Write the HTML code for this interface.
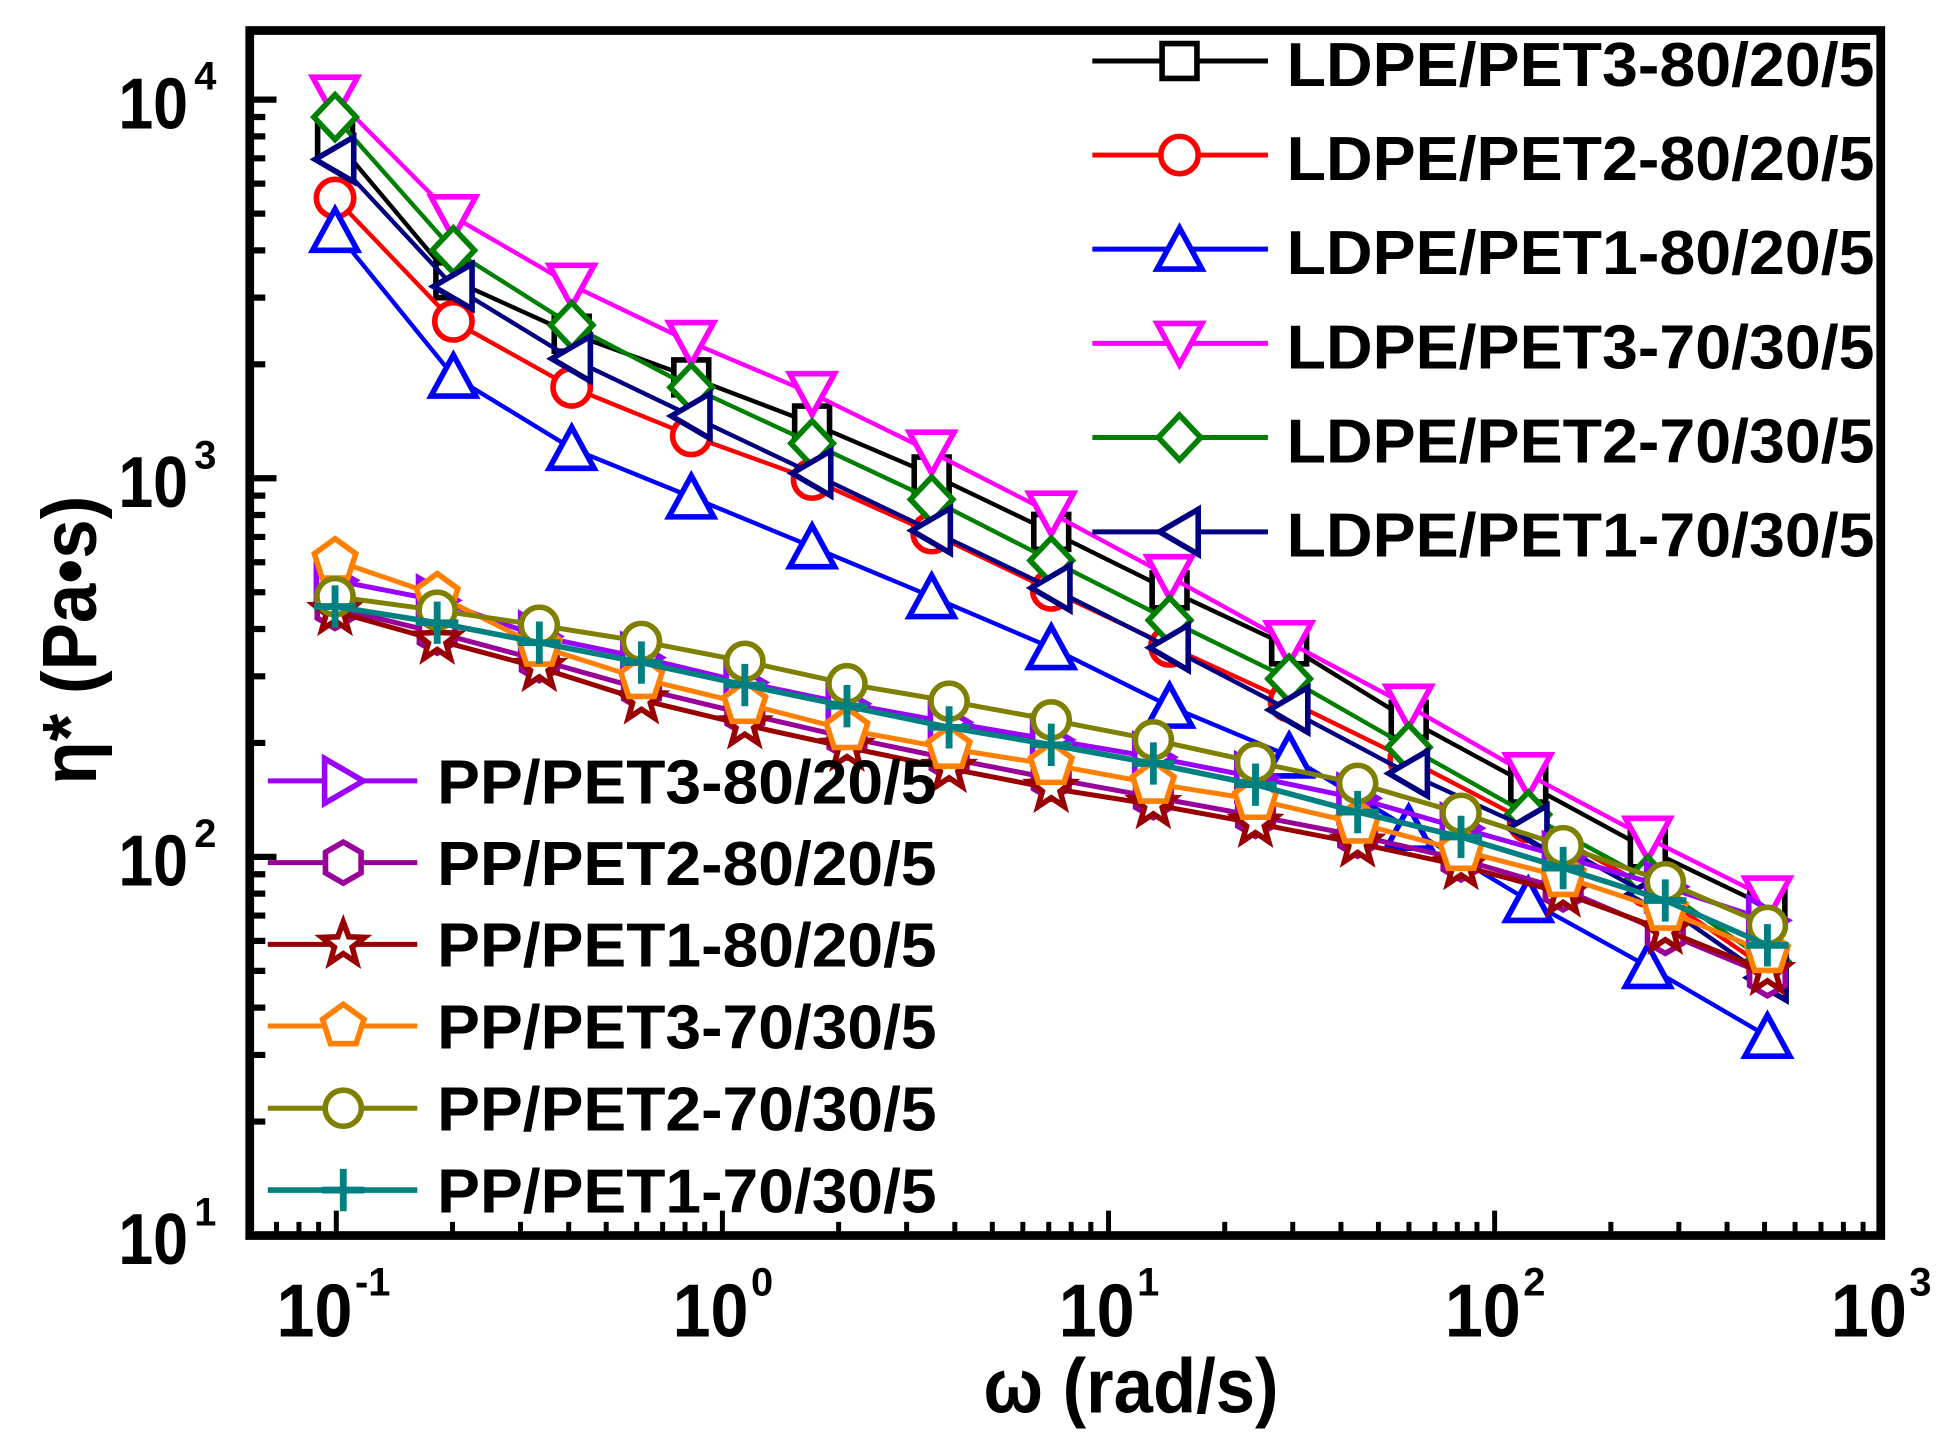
<!DOCTYPE html>
<html>
<head>
<meta charset="utf-8">
<style>
html,body{margin:0;padding:0;background:#fff;}
svg{display:block;}
text{font-family:"Liberation Sans",Arial,sans-serif;font-weight:bold;fill:#000;}
</style>
</head>
<body>
<svg xmlns="http://www.w3.org/2000/svg" width="1953" height="1451" viewBox="0 0 1568 1165" preserveAspectRatio="none">
<defs>
<path id="sq" d="M-14,-14h28v28h-28Z"/>
<circle id="ci" r="15"/>
<path id="tu" d="M0,-17L18,16L-18,16Z"/>
<path id="td" d="M-18,-16L18,-16L0,17Z"/>
<path id="dm" d="M0,-18L17,0L0,18L-17,0Z"/>
<path id="tl" d="M-16,0L15,-18L15,18Z"/>
<path id="tr" d="M-15,-18L-15,18L16,0Z"/>
<path id="hx" d="M0,-16.5L14.29,-8.25L14.29,8.25L0,16.5L-14.29,8.25L-14.29,-8.25Z"/>
<path id="st" d="M0,-18L4.41,-6.07L17.12,-5.56L7.13,2.32L10.58,14.56L0,7.5L-10.58,14.56L-7.13,2.32L-17.12,-5.56L-4.41,-6.07Z"/>
<path id="pt" d="M0,-17.5L16.64,-5.41L10.29,14.16L-10.29,14.16L-16.64,-5.41Z"/>
<circle id="co" r="14.5"/>
<path id="pl" d="M-17,0H17M0,-17V17"/>
</defs>
<rect x="0" y="0" width="1568" height="1165" fill="#fff"/>

<!-- ticks -->
<g stroke="#000" stroke-width="4" fill="none">
<path d="M270,992V972M580,992V972M890,992V972M1200,992V972"/>
<path d="M222,992V981M240,992V981M255.8,992V981
M363.3,992V981M417.9,992V981M456.6,992V981M486.7,992V981M511.2,992V981M532,992V981M550,992V981M565.8,992V981
M673.3,992V981M727.9,992V981M766.6,992V981M796.7,992V981M821.2,992V981M842,992V981M860,992V981M875.8,992V981
M983.3,992V981M1037.9,992V981M1076.6,992V981M1106.7,992V981M1131.2,992V981M1152,992V981M1170,992V981M1185.8,992V981
M1293.3,992V981M1347.9,992V981M1386.6,992V981M1416.7,992V981M1441.2,992V981M1462,992V981M1480,992V981M1495.8,992V981"/>
</g>
<g stroke="#000" stroke-width="5" fill="none">
<path d="M200,80H222M200,384H222M200,688H222"/>
<path d="M200,900.5H213M200,847H213M200,809H213M200,779.5H213M200,755.4H213M200,735.1H213M200,717.5H213M200,701.9H213
M200,596.5H213M200,543H213M200,505H213M200,475.5H213M200,451.4H213M200,431.1H213M200,413.5H213M200,397.9H213
M200,292.5H213M200,239H213M200,201H213M200,171.5H213M200,147.4H213M200,127.1H213M200,109.5H213M200,93.9H213"/>
</g>

<!-- LDPE series -->
<g fill="none" stroke-width="3.5" stroke-linejoin="round">
<polyline stroke="#000000" points="269,112 364,225 459,268 555,303 652,340 748,381 844,427 939,474 1035,519 1131,578 1227,630 1323,682 1419,728"/>
</g>
<g fill="#fff" stroke="#000000" stroke-width="4.5">
<use href="#sq" x="269" y="112"/><use href="#sq" x="364" y="225"/><use href="#sq" x="459" y="268"/><use href="#sq" x="555" y="303"/><use href="#sq" x="652" y="340"/><use href="#sq" x="748" y="381"/><use href="#sq" x="844" y="427"/><use href="#sq" x="939" y="474"/><use href="#sq" x="1035" y="519"/><use href="#sq" x="1131" y="578"/><use href="#sq" x="1227" y="630"/><use href="#sq" x="1323" y="682"/><use href="#sq" x="1419" y="728"/>
</g>

<polyline fill="none" stroke="#ff0000" stroke-width="3.5" points="269,159 364,258 459,311 555,350 652,385 748,428 844,474 939,519 1035,563 1131,610 1227,660 1323,712 1419,778"/>
<g fill="#fff" stroke="#ff0000" stroke-width="4.5">
<use href="#ci" x="269" y="159"/><use href="#ci" x="364" y="258"/><use href="#ci" x="459" y="311"/><use href="#ci" x="555" y="350"/><use href="#ci" x="652" y="385"/><use href="#ci" x="748" y="428"/><use href="#ci" x="844" y="474"/><use href="#ci" x="939" y="519"/><use href="#ci" x="1035" y="563"/><use href="#ci" x="1131" y="610"/><use href="#ci" x="1227" y="660"/><use href="#ci" x="1323" y="712"/><use href="#ci" x="1419" y="778"/>
</g>

<polyline fill="none" stroke="#0000ff" stroke-width="3.5" points="269,185 364,302 459,360 555,399 652,439 748,479 844,520 939,567 1035,607 1131,665 1227,723 1323,776 1419,832"/>
<g fill="#fff" stroke="#0000ff" stroke-width="4.5">
<use href="#tu" x="269" y="185"/><use href="#tu" x="364" y="302"/><use href="#tu" x="459" y="360"/><use href="#tu" x="555" y="399"/><use href="#tu" x="652" y="439"/><use href="#tu" x="748" y="479"/><use href="#tu" x="844" y="520"/><use href="#tu" x="939" y="567"/><use href="#tu" x="1035" y="607"/><use href="#tu" x="1131" y="665"/><use href="#tu" x="1227" y="723"/><use href="#tu" x="1323" y="776"/><use href="#tu" x="1419" y="832"/>
</g>

<polyline fill="none" stroke="#ff00ff" stroke-width="3.5" points="269,78 364,174 459,229 555,275 652,316 748,363 844,412 939,463 1035,516 1131,567 1227,622 1323,673 1419,721"/>
<g fill="#fff" stroke="#ff00ff" stroke-width="4.5">
<use href="#td" x="269" y="78"/><use href="#td" x="364" y="174"/><use href="#td" x="459" y="229"/><use href="#td" x="555" y="275"/><use href="#td" x="652" y="316"/><use href="#td" x="748" y="363"/><use href="#td" x="844" y="412"/><use href="#td" x="939" y="463"/><use href="#td" x="1035" y="516"/><use href="#td" x="1131" y="567"/><use href="#td" x="1227" y="622"/><use href="#td" x="1323" y="673"/><use href="#td" x="1419" y="721"/>
</g>

<polyline fill="none" stroke="#008000" stroke-width="3.5" points="269,94 364,201 459,261 555,311 652,356 748,401 844,450 939,498 1035,545 1131,600 1227,654 1323,706 1419,772"/>
<g fill="#fff" stroke="#008000" stroke-width="4.5">
<use href="#dm" x="269" y="94"/><use href="#dm" x="364" y="201"/><use href="#dm" x="459" y="261"/><use href="#dm" x="555" y="311"/><use href="#dm" x="652" y="356"/><use href="#dm" x="748" y="401"/><use href="#dm" x="844" y="450"/><use href="#dm" x="939" y="498"/><use href="#dm" x="1035" y="545"/><use href="#dm" x="1131" y="600"/><use href="#dm" x="1227" y="654"/><use href="#dm" x="1323" y="706"/><use href="#dm" x="1419" y="772"/>
</g>

<polyline fill="none" stroke="#000080" stroke-width="3.5" points="269,128 364,230 459,288 555,334 652,380 748,426 844,472 939,520 1035,570 1131,621 1227,665 1323,718 1419,785"/>
<g fill="#fff" stroke="#000080" stroke-width="4.5">
<use href="#tl" x="269" y="128"/><use href="#tl" x="364" y="230"/><use href="#tl" x="459" y="288"/><use href="#tl" x="555" y="334"/><use href="#tl" x="652" y="380"/><use href="#tl" x="748" y="426"/><use href="#tl" x="844" y="472"/><use href="#tl" x="939" y="520"/><use href="#tl" x="1035" y="570"/><use href="#tl" x="1131" y="621"/><use href="#tl" x="1227" y="665"/><use href="#tl" x="1323" y="718"/><use href="#tl" x="1419" y="785"/>
</g>

<!-- PP series -->
<polyline fill="none" stroke="#9900ff" stroke-width="4" points="269,466 351,482 433,511 515,528 598,548 680,565 762,580 844,594 926,608 1008,624 1090,641 1173,665 1255,688 1337,712 1419,739"/>
<g fill="#fff" stroke="#9900ff" stroke-width="4.5">
<use href="#tr" x="269" y="466"/><use href="#tr" x="351" y="482"/><use href="#tr" x="433" y="511"/><use href="#tr" x="515" y="528"/><use href="#tr" x="598" y="548"/><use href="#tr" x="680" y="565"/><use href="#tr" x="762" y="580"/><use href="#tr" x="844" y="594"/><use href="#tr" x="926" y="608"/><use href="#tr" x="1008" y="624"/><use href="#tr" x="1090" y="641"/><use href="#tr" x="1173" y="665"/><use href="#tr" x="1255" y="688"/><use href="#tr" x="1337" y="712"/><use href="#tr" x="1419" y="739"/>
</g>

<polyline fill="none" stroke="#990099" stroke-width="4" points="269,488 351,508 433,530 515,553 598,573 680,592 762,609 844,625 926,640 1008,655 1090,671 1173,690 1255,714 1337,749 1419,783"/>
<g fill="#fff" stroke="#990099" stroke-width="4.5">
<use href="#hx" x="269" y="488"/><use href="#hx" x="351" y="508"/><use href="#hx" x="433" y="530"/><use href="#hx" x="515" y="553"/><use href="#hx" x="598" y="573"/><use href="#hx" x="680" y="592"/><use href="#hx" x="762" y="609"/><use href="#hx" x="844" y="625"/><use href="#hx" x="926" y="640"/><use href="#hx" x="1008" y="655"/><use href="#hx" x="1090" y="671"/><use href="#hx" x="1173" y="690"/><use href="#hx" x="1255" y="714"/><use href="#hx" x="1337" y="749"/><use href="#hx" x="1419" y="783"/>
</g>

<polyline fill="none" stroke="#990000" stroke-width="4" points="269,491 351,514 433,536 515,562 598,582 680,600 762,617 844,633 926,646 1008,661 1090,677 1173,695 1255,717 1337,747 1419,780"/>
<g fill="#fff" stroke="#990000" stroke-width="4.5">
<use href="#st" x="269" y="491"/><use href="#st" x="351" y="514"/><use href="#st" x="433" y="536"/><use href="#st" x="515" y="562"/><use href="#st" x="598" y="582"/><use href="#st" x="680" y="600"/><use href="#st" x="762" y="617"/><use href="#st" x="844" y="633"/><use href="#st" x="926" y="646"/><use href="#st" x="1008" y="661"/><use href="#st" x="1090" y="677"/><use href="#st" x="1173" y="695"/><use href="#st" x="1255" y="717"/><use href="#st" x="1337" y="747"/><use href="#st" x="1419" y="780"/>
</g>

<polyline fill="none" stroke="#ff8000" stroke-width="4" points="269,450 351,478 433,519 515,545 598,565 680,586 762,601 844,614 926,629 1008,642 1090,661 1173,683 1255,704 1337,731 1419,765"/>
<g fill="#fff" stroke="#ff8000" stroke-width="4.5">
<use href="#pt" x="269" y="450"/><use href="#pt" x="351" y="478"/><use href="#pt" x="433" y="519"/><use href="#pt" x="515" y="545"/><use href="#pt" x="598" y="565"/><use href="#pt" x="680" y="586"/><use href="#pt" x="762" y="601"/><use href="#pt" x="844" y="614"/><use href="#pt" x="926" y="629"/><use href="#pt" x="1008" y="642"/><use href="#pt" x="1090" y="661"/><use href="#pt" x="1173" y="683"/><use href="#pt" x="1255" y="704"/><use href="#pt" x="1337" y="731"/><use href="#pt" x="1419" y="765"/>
</g>

<polyline fill="none" stroke="#808000" stroke-width="4" points="269,479 351,490 433,502 515,515 598,531 680,549 762,563 844,578 926,594 1008,612 1090,629 1173,653 1255,679 1337,708 1419,743"/>
<g fill="#fff" stroke="#808000" stroke-width="4.5">
<use href="#co" x="269" y="479"/><use href="#co" x="351" y="490"/><use href="#co" x="433" y="502"/><use href="#co" x="515" y="515"/><use href="#co" x="598" y="531"/><use href="#co" x="680" y="549"/><use href="#co" x="762" y="563"/><use href="#co" x="844" y="578"/><use href="#co" x="926" y="594"/><use href="#co" x="1008" y="612"/><use href="#co" x="1090" y="629"/><use href="#co" x="1173" y="653"/><use href="#co" x="1255" y="679"/><use href="#co" x="1337" y="708"/><use href="#co" x="1419" y="743"/>
</g>

<polyline fill="none" stroke="#008080" stroke-width="4.5" points="269,487 351,500 433,516 515,532 598,550 680,567 762,584 844,598 926,613 1008,630 1090,652 1173,672 1255,697 1337,723 1419,759"/>
<g fill="none" stroke="#008080" stroke-width="5.5">
<use href="#pl" x="269" y="487"/><use href="#pl" x="351" y="500"/><use href="#pl" x="433" y="516"/><use href="#pl" x="515" y="532"/><use href="#pl" x="598" y="550"/><use href="#pl" x="680" y="567"/><use href="#pl" x="762" y="584"/><use href="#pl" x="844" y="598"/><use href="#pl" x="926" y="613"/><use href="#pl" x="1008" y="630"/><use href="#pl" x="1090" y="652"/><use href="#pl" x="1173" y="672"/><use href="#pl" x="1255" y="697"/><use href="#pl" x="1337" y="723"/><use href="#pl" x="1419" y="759"/>
</g>

<!-- LDPE legend -->
<g stroke-width="4" fill="none">
<path stroke="#000000" d="M877,49H1018"/>
<path stroke="#ff0000" d="M877,124.5H1018"/>
<path stroke="#0000ff" d="M877,200H1018"/>
<path stroke="#ff00ff" d="M877,275.7H1018"/>
<path stroke="#008000" d="M877,351.3H1018"/>
<path stroke="#000080" d="M877,427H1018"/>
</g>
<g fill="#fff" stroke-width="4.5">
<use href="#sq" x="947" y="49" stroke="#000000"/>
<use href="#ci" x="947" y="124.5" stroke="#ff0000"/>
<use href="#tu" x="947" y="200" stroke="#0000ff"/>
<use href="#td" x="947" y="275.7" stroke="#ff00ff"/>
<use href="#dm" x="947" y="351.3" stroke="#008000"/>
<use href="#tl" x="947" y="427" stroke="#000080"/>
</g>
<g font-size="50">
<text x="1033" y="69" textLength="472" lengthAdjust="spacingAndGlyphs">LDPE/PET3-80/20/5</text>
<text x="1033" y="144.5" textLength="472" lengthAdjust="spacingAndGlyphs">LDPE/PET2-80/20/5</text>
<text x="1033" y="220" textLength="472" lengthAdjust="spacingAndGlyphs">LDPE/PET1-80/20/5</text>
<text x="1033" y="295.7" textLength="472" lengthAdjust="spacingAndGlyphs">LDPE/PET3-70/30/5</text>
<text x="1033" y="371.3" textLength="472" lengthAdjust="spacingAndGlyphs">LDPE/PET2-70/30/5</text>
<text x="1033" y="447" textLength="472" lengthAdjust="spacingAndGlyphs">LDPE/PET1-70/30/5</text>
</g>

<!-- PP legend -->
<g stroke-width="4" fill="none">
<path stroke="#9900ff" d="M215,627H335"/>
<path stroke="#990099" d="M215,692.6H335"/>
<path stroke="#990000" d="M215,758.2H335"/>
<path stroke="#ff8000" d="M215,823.8H335"/>
<path stroke="#808000" d="M215,889.8H335"/>
<path stroke="#008080" stroke-width="4.5" d="M215,955.5H335"/>
</g>
<g fill="#fff" stroke-width="4.5">
<use href="#tr" x="275.6" y="627" stroke="#9900ff"/>
<use href="#hx" x="275.6" y="692.6" stroke="#990099"/>
<use href="#st" x="275.6" y="758.2" stroke="#990000"/>
<use href="#pt" x="275.6" y="823.8" stroke="#ff8000"/>
<use href="#co" x="275.6" y="889.8" stroke="#808000"/>
<use href="#pl" x="275.6" y="955.5" stroke="#008080" fill="none" stroke-width="5.5"/>
</g>
<g font-size="50">
<text x="351" y="645" textLength="401" lengthAdjust="spacingAndGlyphs">PP/PET3-80/20/5</text>
<text x="351" y="710.6" textLength="401" lengthAdjust="spacingAndGlyphs">PP/PET2-80/20/5</text>
<text x="351" y="776.2" textLength="401" lengthAdjust="spacingAndGlyphs">PP/PET1-80/20/5</text>
<text x="351" y="841.8" textLength="401" lengthAdjust="spacingAndGlyphs">PP/PET3-70/30/5</text>
<text x="351" y="907.8" textLength="401" lengthAdjust="spacingAndGlyphs">PP/PET2-70/30/5</text>
<text x="351" y="973.5" textLength="401" lengthAdjust="spacingAndGlyphs">PP/PET1-70/30/5</text>
</g>

<!-- frame -->
<rect x="200.5" y="24.5" width="1309.5" height="967.5" fill="none" stroke="#000" stroke-width="7"/>

<!-- y tick labels -->
<g font-size="58">
<text x="95" y="103" textLength="56" lengthAdjust="spacingAndGlyphs">10</text>
<text x="95" y="407" textLength="56" lengthAdjust="spacingAndGlyphs">10</text>
<text x="95" y="711" textLength="56" lengthAdjust="spacingAndGlyphs">10</text>
<text x="95" y="1015" textLength="56" lengthAdjust="spacingAndGlyphs">10</text>
</g>
<g font-size="32">
<text x="156" y="72">4</text>
<text x="156" y="376">3</text>
<text x="156" y="680">2</text>
<text x="156" y="984">1</text>
</g>

<!-- x tick labels -->
<g font-size="60">
<text x="222" y="1073" textLength="61" lengthAdjust="spacingAndGlyphs">10</text>
<text x="540" y="1073" textLength="61" lengthAdjust="spacingAndGlyphs">10</text>
<text x="850" y="1073" textLength="61" lengthAdjust="spacingAndGlyphs">10</text>
<text x="1160" y="1073" textLength="61" lengthAdjust="spacingAndGlyphs">10</text>
<text x="1470" y="1073" textLength="61" lengthAdjust="spacingAndGlyphs">10</text>
</g>
<g font-size="32">
<text x="285" y="1040">-1</text>
<text x="603" y="1040">0</text>
<text x="913" y="1040">1</text>
<text x="1223" y="1040">2</text>
<text x="1533" y="1040">3</text>
</g>

<!-- axis titles -->
<text x="908" y="1134" text-anchor="middle" font-size="62" textLength="237" lengthAdjust="spacingAndGlyphs">ω (rad/s)</text>
<text transform="translate(77,514) rotate(-90)" text-anchor="middle" font-size="62" textLength="232" lengthAdjust="spacingAndGlyphs">η* (Pa•s)</text>
</svg>
</body>
</html>
